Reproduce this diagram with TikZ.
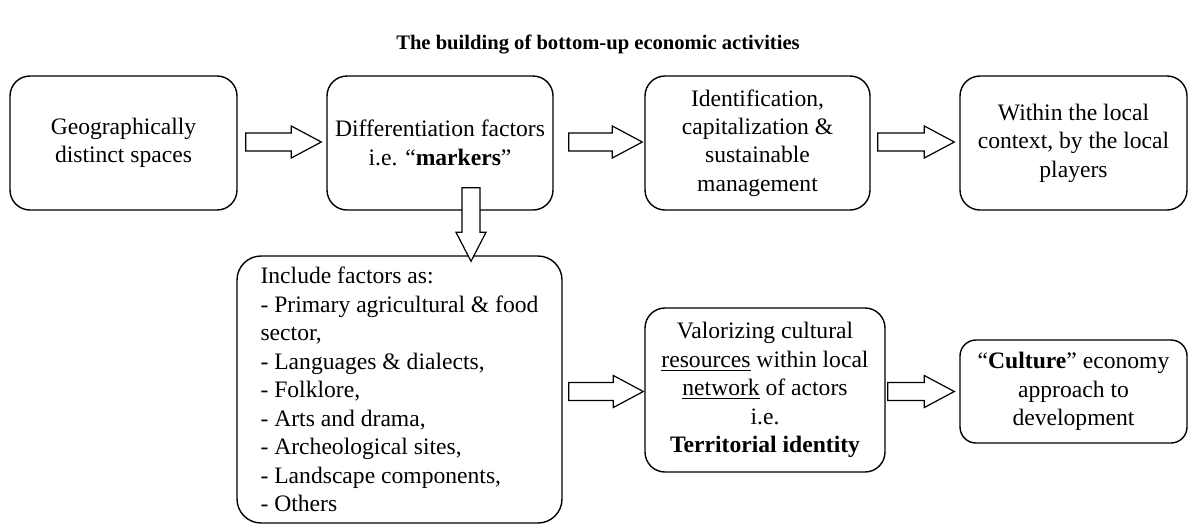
\documentclass[tikz,border=0pt]{standalone}
\usepackage{fontspec}
\setmainfont{Liberation Serif}
\usetikzlibrary{calc}
\tikzset{
  box/.style={draw, line width=0.7pt, rounded corners=10pt, align=center, inner sep=2pt,
    font=\fontsize{11.8}{14.2}\selectfont},
  listbox/.style={draw, line width=0.7pt, rounded corners=12pt, align=left, inner sep=2pt,
    font=\fontsize{11.8}{14.25}\selectfont},
  blk/.style={draw, fill=white, line width=0.6pt, line join=miter},
  ttl/.style={font=\fontsize{10.3}{12}\selectfont\bfseries}
}
\newcommand\harrow[5]{%
  \path (#1.east |- 0,#3) coordinate (hs) (#2.west |- 0,#3) coordinate (he);
  \draw[blk] ($(hs)+(#4,-9)$) -- ($(he)+({-#5-30},-9)$) -- ($(he)+({-#5-30},-16)$)
    -- ($(he)+(-#5,0)$) -- ($(he)+({-#5-30},16)$) -- ($(he)+({-#5-30},9)$)
    -- ($(hs)+(#4,9)$) -- cycle;}
\begin{document}
\begin{tikzpicture}[x=0.5pt,y=-0.5pt]
\useasboundingbox (0,0) rectangle (1197,525);
\node[ttl] (title) at (598,45) {The building of bottom-up economic activities};
\node[box, minimum width=113.5pt, minimum height=67pt] (b1) at (123.5,143)
  {Geographically\\distinct spaces};
\node[box, minimum width=113pt, minimum height=67pt] (b2) at (440,143)
  {Differentiation factors\\i.e. “\textbf{markers}”};
\node[box, minimum width=112.5pt, minimum height=67pt] (b3) at (757.5,143)
  {Identification,\\capitalization \&\\sustainable\\management};
\node[box, minimum width=113.5pt, minimum height=67pt] (b4) at (1073.5,143)
  {Within the local\\context, by the local\\players};
\node[listbox, minimum width=162.5pt, minimum height=133.5pt] (b5) at (399.5,389.5)
  {Include factors as:\\- Primary agricultural \& food\\sector,\\- Languages \& dialects,\\- Folklore,\\- Arts and drama,\\- Archeological sites,\\- Landscape components,\\- Others};
\node[box, minimum width=120pt, minimum height=82pt] (b6) at (765,390)
  {Valorizing cultural\\\underline{resources} within local\\\underline{network} of actors\\i.e.\\\textbf{Territorial identity}};
\node[box, rounded corners=8pt, minimum width=113.5pt, minimum height=51.5pt] (b7) at (1073.5,391.5)
  {“\textbf{Culture}” economy\\approach to\\development};
\harrow{b1}{b2}{142}{8}{5}
\harrow{b2}{b3}{142}{15}{2}
\harrow{b3}{b4}{142}{7}{5}
\harrow{b5}{b6}{391.5}{6}{1}
\harrow{b6}{b7}{391.5}{2}{5}
\coordinate (dtop) at ($(b2.south)+(31,-23)$);
\coordinate (dtip) at ($(dtop |- b5.north)+(0,6)$);
\draw[blk] ($(dtop)+(-9,0)$) -- ($(dtip)+(-9,-29)$) -- ($(dtip)+(-15,-29)$) -- (dtip)
  -- ($(dtip)+(15,-29)$) -- ($(dtip)+(9,-29)$) -- ($(dtop)+(9,0)$) -- cycle;
\end{tikzpicture}
\end{document}
